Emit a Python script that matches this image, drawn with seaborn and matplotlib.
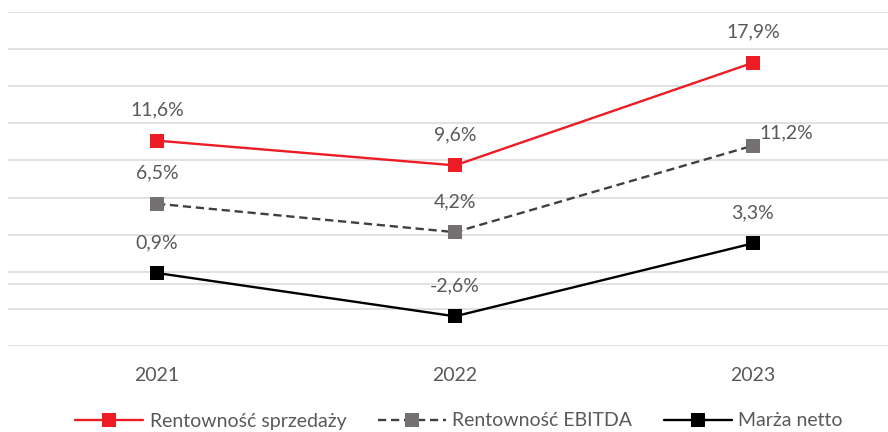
import matplotlib
matplotlib.use("Agg")
import matplotlib.pyplot as plt
import seaborn as sns
import pandas as pd

years = ["2021", "2022", "2023"]
rent_sprzedazy = [11.6, 9.6, 17.9]
rent_ebitda = [6.5, 4.2, 11.2]
marza_netto = [0.9, -2.6, 3.3]
series_names = ["Rentowność sprzedaży", "Rentowność EBITDA", "Marża netto"]

sns.set_theme(style="white")
plt.rcParams["font.family"] = ["Lato", "DejaVu Sans"]

TXT = "#595959"
GRID = "#D9D9D9"
FS = 14

fig = plt.figure(figsize=(8.88, 4.32), dpi=100)
ax = fig.add_axes([8 / 888, (432 - 346) / 432, 880 / 888, 334 / 432])

df = pd.DataFrame({
    "year": years * 3,
    "value": rent_sprzedazy + rent_ebitda + marza_netto,
    "series": [series_names[0]] * 3 + [series_names[1]] * 3 + [series_names[2]] * 3,
})

styles = {
    series_names[0]: dict(color="#EE1C25", mfc="#EE1C25", ls="-"),
    series_names[1]: dict(color="#404040", mfc="#767171", ls=(0, (3.5, 2))),
    series_names[2]: dict(color="#000000", mfc="#000000", ls="-"),
}

for name in series_names:
    st = styles[name]
    sub = df[df["series"] == name]
    sns.lineplot(data=sub, x="year", y="value", ax=ax, label=name,
                 color=st["color"], linestyle=st["ls"], linewidth=1.7,
                 marker="s", markersize=10, markerfacecolor=st["mfc"],
                 markeredgecolor=st["mfc"], markeredgewidth=0, sort=False)

# data labels
for name in series_names:
    sub = df[df["series"] == name].reset_index(drop=True)
    for i, row in sub.iterrows():
        label = f"{row['value']:.1f}%".replace(".", ",")
        if name == series_names[1] and i == 2:
            off, ha = (5, 9), "left"
        else:
            off, ha = (0, 22), "center"
        ax.annotate(label, (i, row["value"]), xytext=off, textcoords="offset points",
                    ha=ha, va="center", fontsize=FS, color=TXT)

ax.set_ylim(-5, 22)
ax.set_xlim(-0.5, (888 - 157) / 298)
ax.set_yticks([-5 + 3 * k for k in range(10)])
ax.grid(axis="y", color=GRID, linewidth=1.1)
ax.axhline(0, color=GRID, linewidth=1.1, zorder=0.5)
ax.set_axisbelow(True)
for s in ax.spines.values():
    s.set_visible(False)
ax.set_yticklabels([])
ax.tick_params(axis="y", length=0)
ax.tick_params(axis="x", length=0, labelsize=FS, labelcolor=TXT, pad=15)
ax.set_xlabel("")
ax.set_ylabel("")

ax.get_legend().remove()
handles, labels = ax.get_legend_handles_labels()
leg = fig.legend(handles, labels, loc="center", bbox_to_anchor=(459 / 888, 11 / 432),
                 ncol=3, frameon=False, fontsize=FS, handlelength=3.5,
                 handletextpad=0.35, columnspacing=1.6, labelcolor=TXT)

fig.savefig("out.png", dpi=100)
